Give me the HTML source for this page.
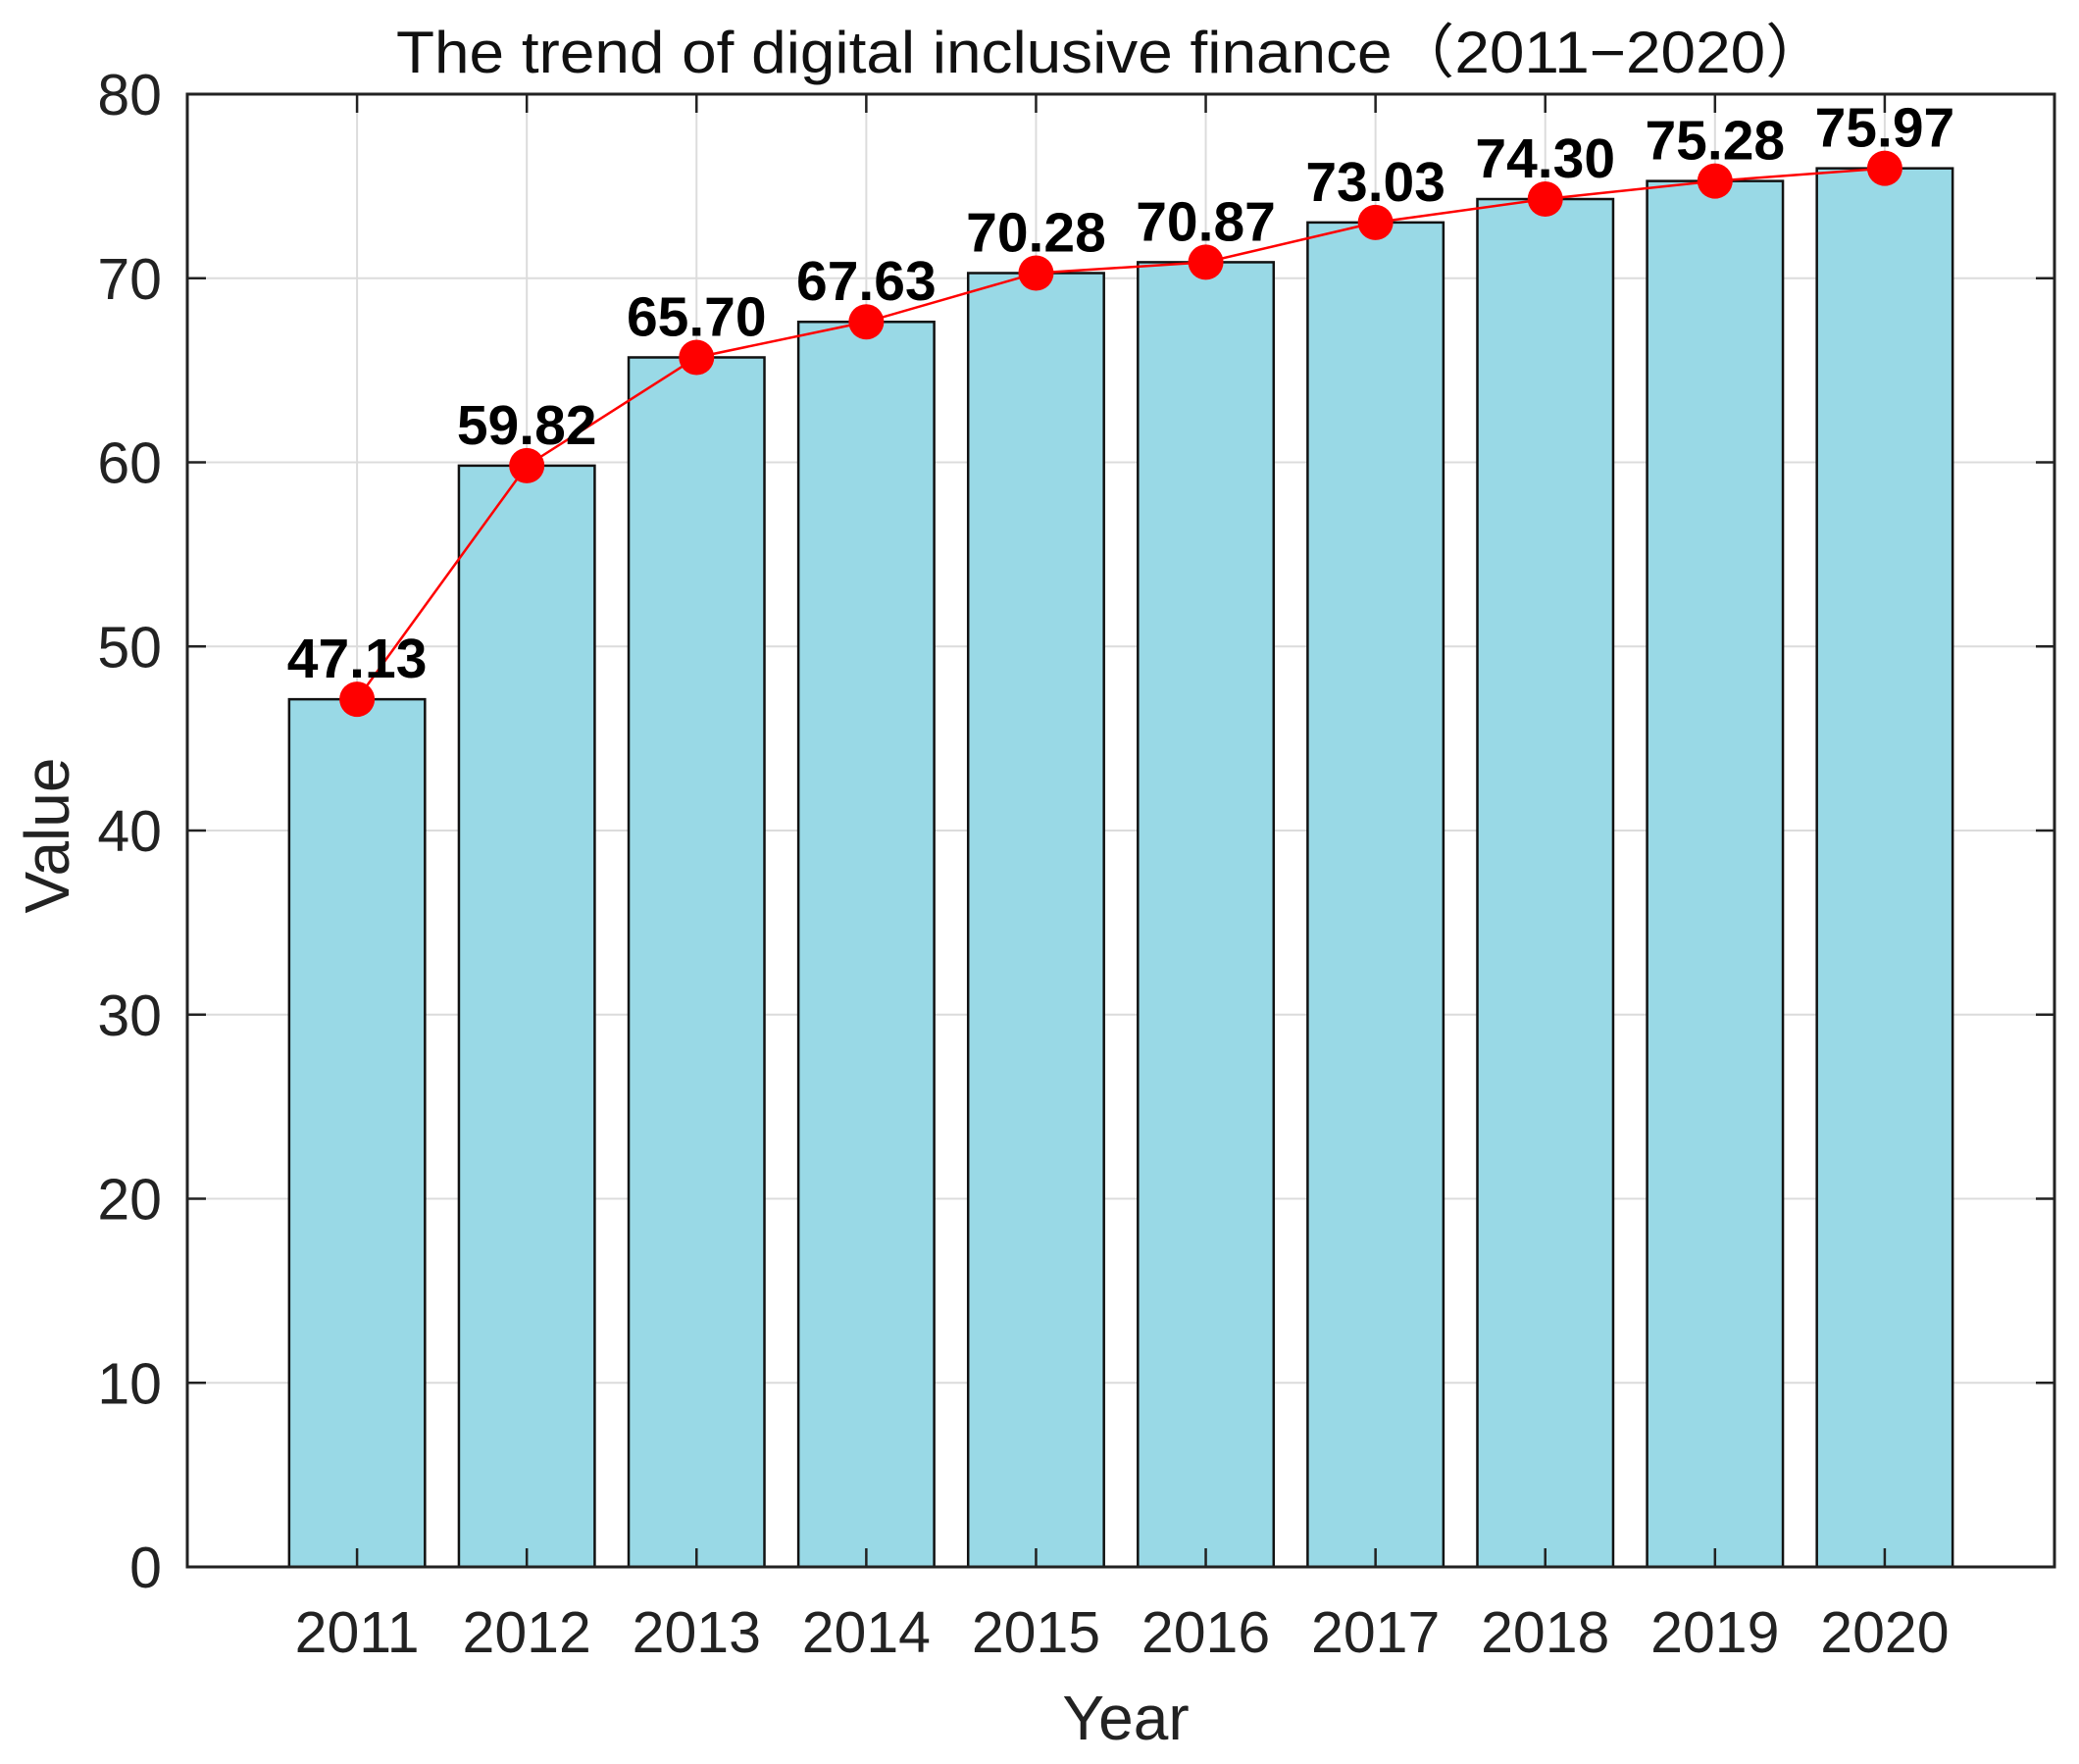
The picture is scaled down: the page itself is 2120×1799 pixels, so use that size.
<!DOCTYPE html>
<html><head><meta charset="utf-8"><style>
html,body{margin:0;padding:0;background:#fff;}
svg text{font-family:"Liberation Sans","Noto Sans CJK SC",sans-serif;}
</style></head><body>
<svg id="chart" width="2120" height="1794" xmlns="http://www.w3.org/2000/svg">
<rect width="2120" height="1794" fill="#fff"/>
<g id="grid"></g>
<g id="bars"></g>
<g id="axes"></g>
<g id="series"></g>
<g id="labels"></g>
<text x="1134" y="74" font-size="60" text-anchor="middle" textLength="1460" lengthAdjust="spacingAndGlyphs" fill="#111">The trend of digital inclusive finance（2011−2020）</text>
<text x="1148" y="1774" font-size="64" text-anchor="middle" fill="#222">Year</text>
<text x="0" y="0" transform="translate(70,852) rotate(-90)" font-size="64" text-anchor="middle" fill="#222">Value</text>
</svg>
<script>
const categories=["2011","2012","2013","2014","2015","2016","2017","2018","2019","2020"];
const values=[47.13,59.82,65.70,67.63,70.28,70.87,73.03,74.30,75.28,75.97];
const valueLabels=["47.13","59.82","65.70","67.63","70.28","70.87","73.03","74.30","75.28","75.97"];
const yTicks=[0,10,20,30,40,50,60,70,80];

const L=191,R=2095,T=96,B=1598,ymax=80,xmax=11;
const NS="http://www.w3.org/2000/svg";
function xs(i){return L+(i+1)*(R-L)/xmax;}
function ys(v){return B-v/ymax*(B-T);}
function mk(tag,attrs,parent,txt){const e=document.createElementNS(NS,tag);for(const k in attrs)e.setAttribute(k,attrs[k]);if(txt!==undefined)e.textContent=txt;document.getElementById(parent).appendChild(e);return e;}
const bw=(R-L)/xmax*0.8;

yTicks.forEach(t=>{
  const y=ys(t);
  const g=mk('line',{x1:L,x2:R,y1:y,y2:y,stroke:'#dcdcdc','stroke-width':2},'grid');
  
  
  const tk=mk('line',{x1:L,x2:L+19,y1:y,y2:y,stroke:'#222','stroke-width':2.5},'axes');
  
  
  const tk2=mk('line',{x1:R,x2:R-19,y1:y,y2:y,stroke:'#222','stroke-width':2.5},'axes');
  
  
  const lb=mk('text',{x:L-26,y:y+21,'font-size':59,'text-anchor':'end',fill:'#222'},'axes',String(t));
  
  
});
categories.forEach((c,i)=>{
  const x=xs(i);
  const g=mk('line',{x1:x,x2:x,y1:T,y2:B,stroke:'#dcdcdc','stroke-width':2},'grid');
  
  
  const b=mk('rect',{x:x-bw/2,y:ys(values[i]),width:bw,height:B-ys(values[i]),fill:'#99d9e6',stroke:'#111','stroke-width':2.5},'bars');
  
  
  const tk=mk('line',{x1:x,x2:x,y1:B,y2:B-19,stroke:'#222','stroke-width':2.5},'axes');
  
  
  const tk2=mk('line',{x1:x,x2:x,y1:T,y2:T+19,stroke:'#222','stroke-width':2.5},'axes');
  
  
  const lb=mk('text',{x:x,y:1685,'font-size':59,'text-anchor':'middle',fill:'#222'},'axes',c);
  
  
});
const frame=mk('rect',{x:L,y:T,width:R-L,height:B-T,fill:'none',stroke:'#222','stroke-width':3},'axes');


const pts=values.map((v,i)=>xs(i)+','+ys(v)).join(' ');
const pl=mk('polyline',{points:pts,fill:'none',stroke:'#ff0000','stroke-width':2.5},'series');


values.forEach((v,i)=>{
  const c=mk('circle',{cx:xs(i),cy:ys(v),r:18,fill:'#ff0000'},'series');
  
  
  const t=mk('text',{x:xs(i),y:ys(v)-22,'font-size':57,'font-weight':'bold','text-anchor':'middle',fill:'#000'},'labels',valueLabels[i]);
  
  
});
</script>
</body></html>
